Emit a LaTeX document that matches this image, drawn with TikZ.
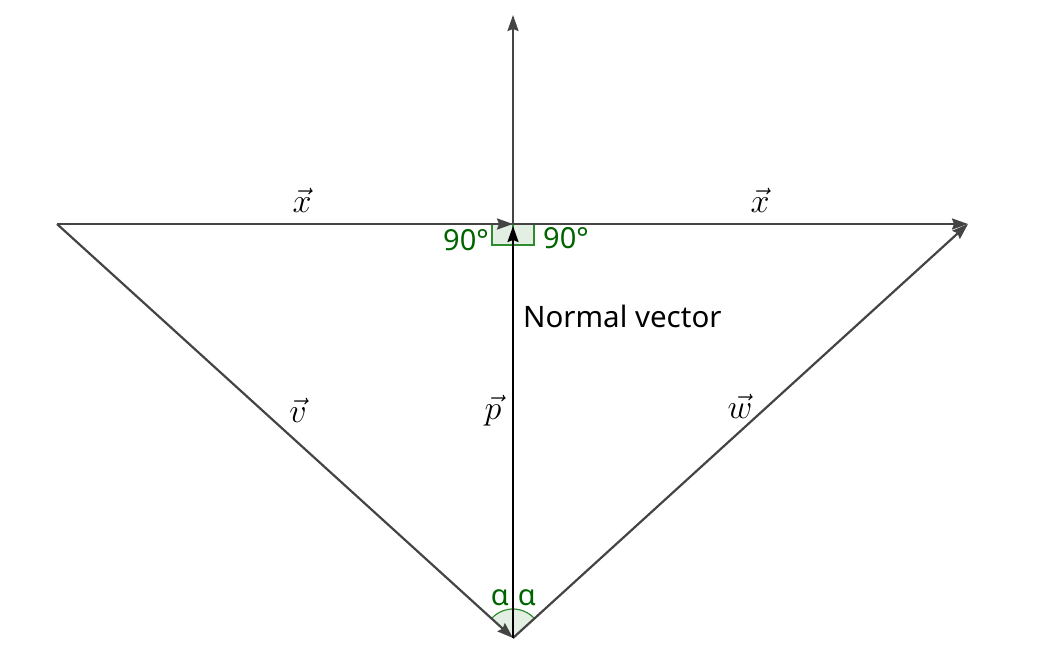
\documentclass[tikz,border=0pt]{standalone}
\usepackage{fontspec}
\setsansfont{Noto Sans}
\usetikzlibrary{arrows.meta}
\definecolor{ln}{HTML}{444444}
\definecolor{gtext}{HTML}{006400}
\definecolor{gfill}{HTML}{E4EFE4}
\definecolor{gline}{HTML}{2E8B2E}
\newcommand{\bigvec}[1]{\scalebox{1.37}{$\vec{#1}$}}
\tikzset{
  vec/.style={draw=ln, line width=2.2pt, -{Stealth[length=16pt,width=11pt,inset=2pt]}},
  mathlbl/.style={font=\fontsize{24.88}{30}\selectfont, inner sep=0pt},
  glbl/.style={text=gtext, font=\sffamily\fontsize{29}{32}\selectfont, inner sep=0pt},
  anglemark/.style={fill=gfill, draw=gline, line width=1.2pt},
}
\begin{document}
\begin{tikzpicture}[x=1pt,y=-1pt]
\useasboundingbox (0,0) rectangle (1043,666);
\coordinate (L) at (57,224);
\coordinate (C) at (513,224);
\coordinate (R) at (968,224);
\coordinate (O) at (513,638);
\coordinate (T) at (513,15);
\coordinate (Cp) at (513,226);
% angle marks
\fill[gfill] (O) -- ++(-137.8:29) arc[start angle=-137.8,end angle=-42.2,radius=29] -- cycle;
\draw[gline, line width=1.2pt] (O) ++(-137.8:29) arc[start angle=-137.8,end angle=-42.2,radius=29];
\draw[anglemark] (492,224) rectangle (513,245);
\draw[anglemark] (513,224) rectangle (534,245);
% lines
\draw[vec] (C) -- (T);
\draw[vec] (L) -- (C);
\draw[vec] (C) -- (R);
\draw[vec] (L) -- (O);
\draw[vec] (O) -- (R);
\draw[vec, draw=black, line width=2pt] (O) -- (Cp);
% labels
\node[mathlbl] (lx1) at (302,200) {\bigvec{x}};
\node[mathlbl] (lx2) at (760,200) {\bigvec{x}};
\node[mathlbl] (lv) at (298,410) {\bigvec{v}};
\node[mathlbl] (lp) at (493,411) {\bigvec{p}};
\node[mathlbl] (lw) at (740,406) {\bigvec{w}};
\node[anchor=west, inner sep=0pt, font=\sffamily\fontsize{29.5}{32}\selectfont] (nv) at (523,316) {Normal vector};
\node[glbl] (a1) at (466,240) {90°};
\node[glbl] (a2) at (566,238) {90°};
\node[glbl] (al1) at (500,598) {α};
\node[glbl] (al2) at (527,598) {α};
\end{tikzpicture}
\end{document}
